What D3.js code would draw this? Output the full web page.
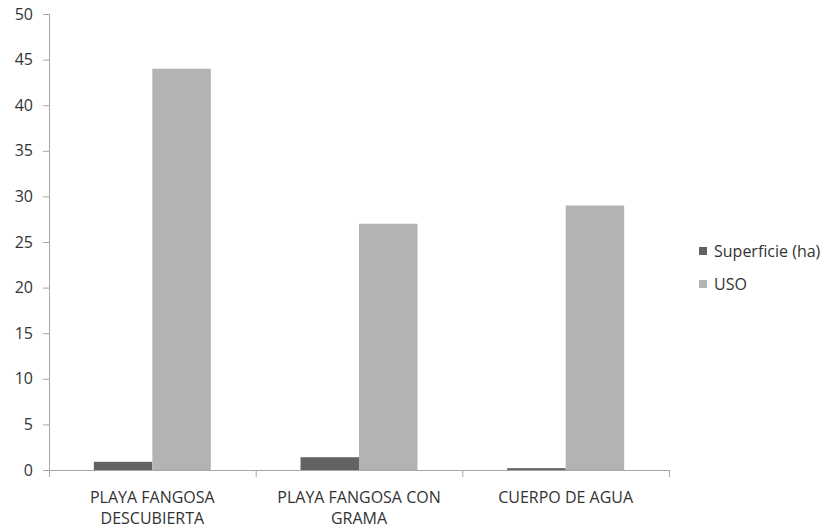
<!DOCTYPE html>
<html>
<head>
<meta charset="utf-8">
<script src="https://cdn.jsdelivr.net/npm/d3@7"></script>
<style>
  body { margin: 0; background: #fff; }
  text { font-family: "Open Sans", "Liberation Sans", sans-serif; fill: #333; }
</style>
</head>
<body>
<svg id="chart" width="829" height="528"></svg>
<script>
const categories = [["PLAYA FANGOSA", "DESCUBIERTA"], ["PLAYA FANGOSA CON", "GRAMA"], ["CUERPO DE AGUA"]];
const seriesNames = ["Superficie (ha)", "USO"];
const superficie = [0.9, 1.4, 0.2];
const uso = [44, 27, 29];
const yTicks = [0, 5, 10, 15, 20, 25, 30, 35, 40, 45, 50];
const colors = ["#636363", "#b3b3b3"];

const svg = d3.select("#chart");
const plotLeft = 49, plotRight = 669, plotTop = 14, plotBottom = 470;
const axisColor = "#a6a6a6";

const x = d3.scaleBand()
    .domain(d3.range(categories.length))
    .range([plotLeft, plotRight])
    .paddingInner(0.434)
    .paddingOuter(0.217);

const xs = d3.scaleBand()
    .domain(d3.range(seriesNames.length))
    .range([0, x.bandwidth()]);

const y = d3.scaleLinear().domain([0, 50]).range([plotBottom, plotTop]);

// bars
const series = [superficie, uso];
series.forEach((vals, s) => {
    svg.append("g")
        .selectAll("rect")
        .data(vals)
        .join("rect")
        .attr("x", (d, i) => x(i) + xs(s))
        .attr("width", xs.bandwidth())
        .attr("y", d => y(d))
        .attr("height", d => y(0) - y(d))
        .attr("fill", colors[s]);
});

// y axis
const yAxis = svg.append("g");
yAxis.append("line")
    .attr("x1", plotLeft + 0.5).attr("x2", plotLeft + 0.5)
    .attr("y1", y(50)).attr("y2", y(0))
    .attr("stroke", axisColor);
yAxis.selectAll("line.tick")
    .data(yTicks)
    .join("line")
    .attr("class", "tick")
    .attr("x1", plotLeft - 6).attr("x2", plotLeft)
    .attr("y1", d => y(d) + 0.5).attr("y2", d => y(d) + 0.5)
    .attr("stroke", axisColor);
yAxis.selectAll("text")
    .data(yTicks)
    .join("text")
    .attr("x", 33)
    .attr("y", d => y(d))
    .attr("dy", "0.35em")
    .attr("text-anchor", "end")
    .attr("font-size", 16)
    .text(d => d);

// x axis
const xAxis = svg.append("g");
xAxis.append("line")
    .attr("x1", plotLeft).attr("x2", plotRight)
    .attr("y1", plotBottom + 0.5).attr("y2", plotBottom + 0.5)
    .attr("stroke", axisColor);
const step = x.step();
xAxis.selectAll("line.tick")
    .data(d3.range(categories.length + 1))
    .join("line")
    .attr("class", "tick")
    .attr("x1", d => plotLeft + d * step + 0.5).attr("x2", d => plotLeft + d * step + 0.5)
    .attr("y1", plotBottom).attr("y2", plotBottom + 7)
    .attr("stroke", axisColor);
const labels = xAxis.selectAll("text")
    .data(categories)
    .join("text")
    .attr("text-anchor", "middle")
    .attr("font-size", 16)
    .attr("transform", (d, i) => `translate(${x(i) + x.bandwidth() / 2},503)`);
labels.selectAll("tspan")
    .data(d => d)
    .join("tspan")
    .attr("x", 0)
    .attr("y", (d, i) => i * 21)
    .text(d => d);

// legend
const legend = svg.append("g");
const legY = [251, 284];
seriesNames.forEach((name, s) => {
    legend.append("rect")
        .attr("x", 699).attr("y", legY[s] - 4)
        .attr("width", 8).attr("height", 8)
        .attr("fill", colors[s]);
    legend.append("text")
        .attr("x", 714).attr("y", legY[s])
        .attr("dy", "0.35em")
        .attr("font-size", 16)
        .text(name);
});
</script>
</body>
</html>
